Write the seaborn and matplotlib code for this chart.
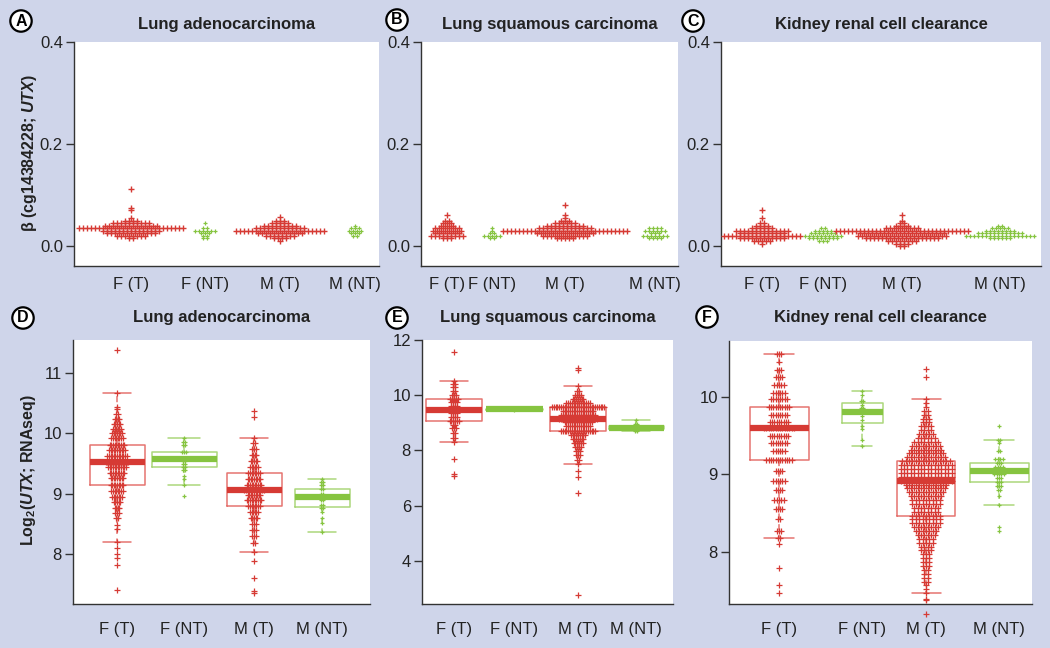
import numpy as np
import matplotlib
matplotlib.use("Agg")
import matplotlib.pyplot as plt
import seaborn as sns

# ---------------- data (value, count) ----------------
groups = ["F (T)", "F (NT)", "M (T)", "M (NT)"]
titles = ["Lung adenocarcinoma", "Lung squamous carcinoma", "Kidney renal cell clearance"]
letters_top = ["A", "B", "C"]
letters_bot = ["D", "E", "F"]

# Top row: methylation beta values
A_FT = [(0.015, 2), (0.020, 8), (0.025, 13), (0.030, 15), (0.035, 27), (0.040, 14), (0.045, 10),
        (0.050, 4), (0.055, 1), (0.070, 1), (0.074, 1), (0.112, 1)]
A_FNT = [(0.015, 2), (0.020, 2), (0.025, 3), (0.030, 6), (0.035, 2), (0.045, 1)]
A_MT = [(0.010, 1), (0.015, 4), (0.020, 8), (0.025, 12), (0.030, 23), (0.035, 13), (0.040, 9),
        (0.045, 5), (0.050, 3), (0.057, 1)]
A_MNT = [(0.020, 2), (0.025, 3), (0.030, 4), (0.035, 3), (0.040, 1)]

B_FT = [(0.015, 3), (0.020, 9), (0.025, 7), (0.030, 8), (0.035, 7), (0.040, 4), (0.045, 3),
        (0.050, 2), (0.060, 1)]
B_FNT = [(0.015, 2), (0.020, 5), (0.025, 2), (0.030, 1), (0.035, 1)]
B_MT = [(0.015, 5), (0.020, 12), (0.025, 15), (0.030, 32), (0.035, 14), (0.040, 10), (0.045, 6),
        (0.050, 3), (0.055, 1), (0.060, 1), (0.080, 1)]
B_MNT = [(0.015, 4), (0.020, 7), (0.025, 3), (0.030, 6), (0.035, 4)]

C_FT = [(0.005, 1), (0.010, 5), (0.015, 12), (0.020, 20), (0.025, 12), (0.030, 14), (0.035, 6),
        (0.040, 4), (0.045, 2), (0.055, 1), (0.070, 1)]
C_FNT = [(0.010, 3), (0.015, 8), (0.020, 10), (0.025, 7), (0.030, 5), (0.035, 2)]
C_MT = [(0.000, 2), (0.005, 4), (0.010, 8), (0.015, 19), (0.020, 23), (0.025, 22), (0.030, 34),
        (0.035, 9), (0.040, 4), (0.045, 2), (0.050, 1), (0.060, 1)]
C_MNT = [(0.015, 6), (0.020, 18), (0.025, 12), (0.030, 8), (0.035, 5), (0.040, 2)]

# Bottom row: log2 expression
D_FT = [(7.41, 1), (7.81, 1), (7.93, 1), (8.0, 1), (8.1, 1), (8.2, 1), (8.41, 1), (8.48, 1),
        (8.6, 2), (8.68, 3), (8.77, 4), (8.86, 5), (8.95, 7), (9.05, 8), (9.15, 9), (9.26, 9),
        (9.35, 10), (9.44, 12), (9.53, 15), (9.62, 13), (9.72, 11), (9.8, 10), (9.92, 8),
        (10.0, 7), (10.08, 6), (10.16, 5), (10.24, 4), (10.32, 2), (10.4, 1), (10.44, 1),
        (10.67, 1), (11.38, 1)]
D_FNT = [(8.97, 1), (9.15, 1), (9.25, 1), (9.3, 1), (9.4, 2), (9.45, 2), (9.5, 2), (9.55, 2),
         (9.6, 4), (9.7, 3), (9.8, 2), (9.85, 2), (9.93, 1)]
D_MT = [(7.35, 1), (7.38, 1), (7.6, 1), (7.88, 1), (8.04, 1), (8.19, 2), (8.29, 3), (8.39, 3),
        (8.49, 3), (8.59, 5), (8.69, 6), (8.79, 8), (8.89, 10), (8.98, 9), (9.06, 13), (9.14, 10),
        (9.24, 9), (9.34, 8), (9.44, 6), (9.54, 5), (9.64, 4), (9.74, 3), (9.84, 2), (9.93, 1),
        (10.27, 1), (10.38, 1)]
D_MNT = [(8.37, 1), (8.52, 1), (8.6, 1), (8.7, 1), (8.77, 2), (8.82, 2), (8.9, 2), (8.95, 3),
         (9.0, 2), (9.08, 2), (9.15, 2), (9.2, 2), (9.25, 1)]

E_FT = [(7.08, 1), (7.15, 1), (7.7, 1), (8.3, 1), (8.45, 2), (8.65, 2), (8.8, 3), (8.92, 2),
        (9.05, 6), (9.22, 4), (9.35, 4), (9.48, 6), (9.62, 4), (9.75, 4), (9.87, 5), (10.0, 3),
        (10.15, 2), (10.3, 2), (10.4, 2), (10.5, 1), (11.57, 1)]
E_FNT = [(9.46, 1), (9.52, 1)]
E_MT = [(2.77, 1), (6.47, 1), (7.04, 1), (7.25, 1), (7.5, 1), (7.67, 2), (7.82, 3), (7.97, 3),
        (8.12, 4), (8.27, 6), (8.42, 7), (8.57, 9), (8.72, 20), (8.87, 14), (9.02, 16), (9.15, 22),
        (9.27, 20), (9.42, 18), (9.57, 30), (9.72, 14), (9.87, 7), (10.02, 4), (10.17, 2),
        (10.32, 1), (10.92, 1), (10.97, 1)]
E_MNT = [(8.72, 2), (8.75, 2), (8.8, 3), (8.85, 2), (8.9, 2), (8.95, 2), (9.1, 1)]

F_FT = [(7.47, 1), (7.57, 1), (7.8, 1), (8.1, 1), (8.18, 2), (8.27, 3), (8.42, 2), (8.55, 4),
        (8.67, 5), (8.8, 4), (8.92, 6), (9.05, 4), (9.18, 12), (9.3, 6), (9.4, 8), (9.5, 9),
        (9.6, 14), (9.68, 9), (9.77, 8), (9.87, 10), (9.97, 8), (10.05, 6), (10.15, 5),
        (10.25, 4), (10.35, 3), (10.45, 1), (10.55, 3)]
F_FNT = [(9.37, 1), (9.45, 1), (9.58, 1), (9.62, 1), (9.7, 1), (9.75, 1), (9.8, 2), (9.85, 2),
         (9.9, 1), (9.95, 2), (10.03, 1), (10.07, 1)]
F_MT = [(7.2, 1), (7.38, 1), (7.40, 1), (7.47, 1), (7.52, 1), (7.57, 1), (7.62, 2), (7.67, 2),
        (7.72, 2), (7.77, 2), (7.82, 3), (7.87, 3), (7.92, 3), (7.97, 3), (8.02, 4), (8.07, 4),
        (8.12, 5), (8.17, 5), (8.22, 6), (8.27, 7), (8.32, 8), (8.37, 9), (8.42, 9), (8.47, 9),
        (8.52, 8), (8.57, 8), (8.62, 9), (8.67, 9), (8.72, 10), (8.77, 11), (8.82, 12),
        (8.87, 13), (8.92, 16), (8.97, 16), (9.02, 16), (9.07, 16), (9.12, 16), (9.17, 15),
        (9.22, 12), (9.27, 11), (9.32, 10), (9.37, 9), (9.42, 8), (9.47, 6), (9.52, 5),
        (9.57, 4), (9.62, 4), (9.67, 3), (9.72, 3), (9.77, 2), (9.82, 2), (9.87, 1), (9.92, 1),
        (9.97, 1), (10.26, 1), (10.36, 1)]
F_MNT = [(8.27, 1), (8.32, 1), (8.6, 1), (8.72, 1), (8.8, 2), (8.85, 3), (8.9, 3), (8.95, 3),
         (9.0, 5), (9.05, 4), (9.1, 4), (9.15, 3), (9.2, 4), (9.3, 2), (9.4, 1), (9.45, 2),
         (9.63, 1)]

top_data = [[A_FT, A_FNT, A_MT, A_MNT], [B_FT, B_FNT, B_MT, B_MNT], [C_FT, C_FNT, C_MT, C_MNT]]
bot_data = [[D_FT, D_FNT, D_MT, D_MNT], [E_FT, E_FNT, E_MT, E_MNT], [F_FT, F_FNT, F_MT, F_MNT]]

# ---------------- layout / style ----------------
W, H = 1050, 648
BG = "#cfd5ea"
RED = "#d63a34"
RED_BOX = "#e57470"
GREEN = "#86c440"
GREEN_BOX = "#acd77c"
SPINE = "#333333"
UNIT = 75.0  # pixels per x data unit

# axes boxes in pixels: (left, right, top, bottom)
top_boxes = [(74, 379, 42, 266), (421, 678, 42, 266), (721, 1041, 42, 266)]
bot_boxes = [(73, 370, 340, 604), (422, 673, 340, 604), (729, 1032, 341, 604)]
# group centres in pixels
top_centres = [[131, 205, 280, 355], [447, 492, 565, 655], [762, 823, 902, 1000]]
bot_centres = [[117, 184, 254, 322], [454, 514, 578, 636], [779, 862, 926, 999]]
bot_widths = [[55, 65, 55, 55], [56, 57, 56, 55], [59, 41, 58, 59]]
top_ylim = (-0.039, 0.4)
bot_ylims = [(7.17, 11.55), (2.44, 12.0), (7.33, 10.72)]
bot_yticks = [[8, 9, 10, 11], [4, 6, 8, 10, 12], [8, 9, 10]]
top_dx = 4.0
bot_dx = [[1.6, 1.8, 1.6, 1.8], [1.8, 1.8, 1.8, 1.8], [2.3, 2.3, 3.4, 2.4]]
colors = [RED, GREEN, RED, GREEN]
box_colors = [RED_BOX, GREEN_BOX, RED_BOX, GREEN_BOX]

sns.set_style("ticks")
plt.rcParams["font.family"] = ["Liberation Sans", "DejaVu Sans"]
plt.rcParams["mathtext.fontset"] = "custom"
plt.rcParams["mathtext.it"] = "Liberation Sans:italic:bold"
plt.rcParams["mathtext.rm"] = "Liberation Sans:bold"
plt.rcParams["mathtext.bf"] = "Liberation Sans:bold"

fig = plt.figure(figsize=(W / 100, H / 100), dpi=100)
fig.patch.set_facecolor(BG)


def add_ax(box):
    l, r, t, b = box
    return fig.add_axes([l / W, 1 - b / H, (r - l) / W, (b - t) / H])


def swarm_xy(levels, centre, dx):
    xs, ys = [], []
    for v, n in levels:
        off = (np.arange(n) - (n - 1) / 2.0) * dx
        xs.extend(centre + off)
        ys.extend([v] * n)
    return np.array(xs), np.array(ys)


def expand(levels):
    return np.repeat([v for v, n in levels], [n for v, n in levels])


def style_ax(ax, box, centres, ylim, yticks, yticklabels, pad):
    l, r, t, b = box
    c0 = centres[0]
    ax.set_xlim((l - c0) / UNIT, (r - c0) / UNIT)
    ax.set_ylim(*ylim)
    ax.set_xticks([(c - c0) / UNIT for c in centres])
    ax.set_xticklabels(groups, fontsize=12, color="#222222")
    ax.set_yticks(yticks)
    ax.set_yticklabels(yticklabels, fontsize=12, color="#222222")
    ax.tick_params(axis="x", length=0, pad=pad)
    ax.tick_params(axis="y", length=6, width=1, color=SPINE, pad=2)
    ax.set_facecolor("white")
    for s in ["top", "right"]:
        ax.spines[s].set_visible(False)
    for s in ["left", "bottom"]:
        ax.spines[s].set_color(SPINE)
        ax.spines[s].set_linewidth(1.0)
    ax.set_xlabel("")
    ax.set_ylabel("")


def panel_letter(x, y, letter):
    fig.text(x / W, 1 - y / H, letter, ha="center", va="center", fontsize=11.5,
             fontweight="bold", color="black",
             bbox=dict(boxstyle="circle,pad=0.2", fc="white", ec="black", lw=1.6))


# ---------------- top row ----------------
top_letter_pos = [(21, 21), (397, 20), (693, 21)]
for p in range(3):
    ax = add_ax(top_boxes[p])
    c0 = top_centres[p][0]
    for g in range(4):
        cx = (top_centres[p][g] - c0) / UNIT
        xs, ys = swarm_xy(top_data[p][g], cx, top_dx / UNIT)
        is_t = g in (0, 2)
        sns.scatterplot(x=xs, y=ys, ax=ax, marker="+", color=colors[g],
                        s=22 if is_t else 9, linewidth=1.0 if is_t else 0.9,
                        zorder=3, legend=False)
    style_ax(ax, top_boxes[p], top_centres[p], top_ylim, [0.0, 0.2, 0.4],
             ["0.0", "0.2", "0.4"], pad=8)
    l, r, t, b = top_boxes[p]
    fig.text((l + r) / 2 / W, 1 - 25 / H, titles[p], ha="center", va="center",
             fontsize=12, fontweight="bold", color="#222222")
    panel_letter(*top_letter_pos[p], letters_top[p])

# ---------------- bottom row ----------------
bot_letter_pos = [(23, 318), (397, 318), (707, 317)]
for p in range(3):
    ax = add_ax(bot_boxes[p])
    c0 = bot_centres[p][0]
    for g in range(4):
        cx = (bot_centres[p][g] - c0) / UNIT
        vals = expand(bot_data[p][g])
        sns.boxplot(x=np.full(len(vals), cx), y=vals, ax=ax, native_scale=True, orient="x",
                    width=bot_widths[p][g] / UNIT, fill=False, color=box_colors[g],
                    linewidth=1.1, showfliers=False, whis=1.5,
                    medianprops=dict(color=colors[g], linewidth=4.5, solid_capstyle="butt",
                                     zorder=4),
                    whiskerprops=dict(linestyle=(0, (4, 3))))
        xs, ys = swarm_xy(bot_data[p][g], cx, bot_dx[p][g] / UNIT)
        is_t = g in (0, 2)
        sns.scatterplot(x=xs, y=ys, ax=ax, marker="+", color=colors[g],
                        s=16 if is_t else 8, linewidth=0.9,
                        zorder=3, legend=False, clip_on=False)
    style_ax(ax, bot_boxes[p], bot_centres[p], bot_ylims[p], bot_yticks[p],
             [str(t) for t in bot_yticks[p]], pad=13)
    l, r, t, b = bot_boxes[p]
    fig.text((l + r) / 2 / W, 1 - 317 / H, titles[p], ha="center", va="center",
             fontsize=12, fontweight="bold", color="#222222")
    panel_letter(*bot_letter_pos[p], letters_bot[p])

# y-axis labels
fig.text(30 / W, 1 - 153 / H, r"β (cg14384228; $\mathit{UTX}$)", rotation=90,
         ha="center", va="center", fontsize=11.5, fontweight="bold", color="#222222")
fig.text(28 / W, 1 - 470 / H, r"Log$_{2}$($\mathit{UTX}$; RNAseq)", rotation=90,
         ha="center", va="center", fontsize=11.5, fontweight="bold", color="#222222")

fig.savefig("out.png", dpi=100, facecolor=BG)
